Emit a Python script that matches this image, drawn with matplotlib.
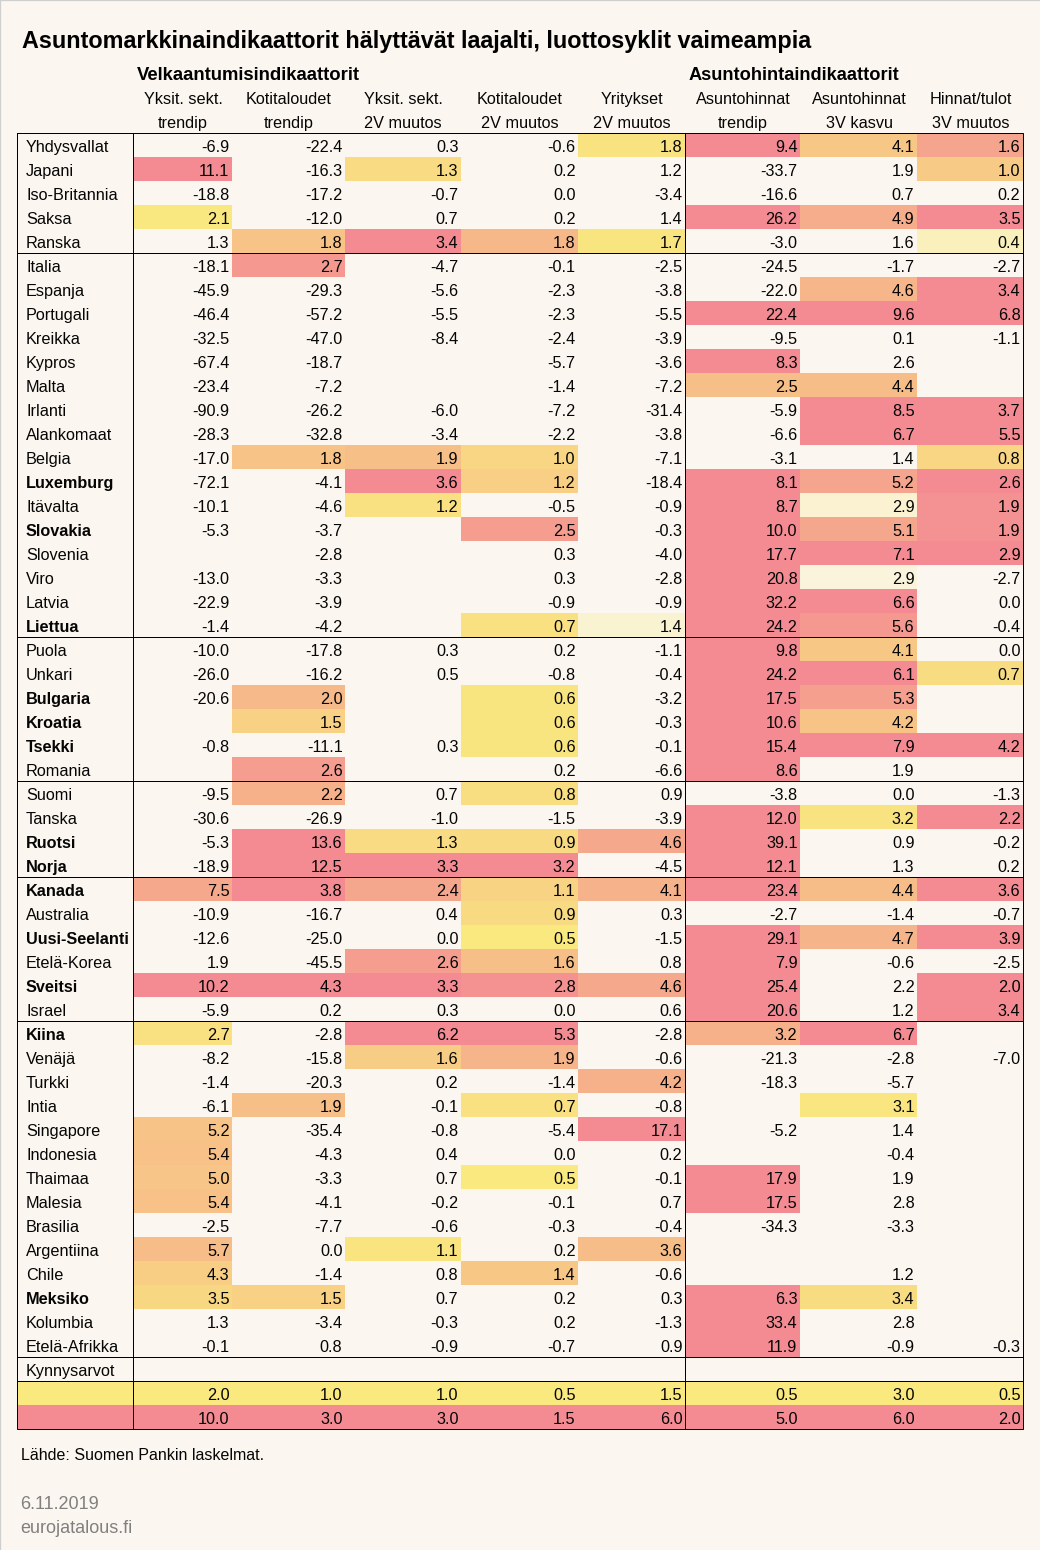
import numpy as np
import matplotlib
matplotlib.use("Agg")
import matplotlib.pyplot as plt
from matplotlib.colors import LinearSegmentedColormap

title = "Asuntomarkkinaindikaattorit hälyttävät laajalti, luottosyklit vaimeampia"
group_heads = ["Velkaantumisindikaattorit", "Asuntohintaindikaattorit"]
head_line1 = ["Yksit. sekt.", "Kotitaloudet", "Yksit. sekt.", "Kotitaloudet", "Yritykset",
              "Asuntohinnat", "Asuntohinnat", "Hinnat/tulot"]
head_line2 = ["trendip", "trendip", "2V muutos", "2V muutos", "2V muutos",
              "trendip", "3V kasvu", "3V muutos"]

countries = ["Yhdysvallat", "Japani", "Iso-Britannia", "Saksa", "Ranska",
             "Italia", "Espanja", "Portugali", "Kreikka", "Kypros", "Malta", "Irlanti", "Alankomaat",
             "Belgia", "Luxemburg", "Itävalta", "Slovakia", "Slovenia", "Viro", "Latvia", "Liettua",
             "Puola", "Unkari", "Bulgaria", "Kroatia", "Tsekki", "Romania",
             "Suomi", "Tanska", "Ruotsi", "Norja",
             "Kanada", "Australia", "Uusi-Seelanti", "Etelä-Korea", "Sveitsi", "Israel",
             "Kiina", "Venäjä", "Turkki", "Intia", "Singapore", "Indonesia", "Thaimaa", "Malesia",
             "Brasilia", "Argentiina", "Chile", "Meksiko", "Kolumbia", "Etelä-Afrikka"]
bold_countries = ["Luxemburg", "Slovakia", "Liettua", "Bulgaria", "Kroatia", "Tsekki", "Ruotsi", "Norja",
                  "Kanada", "Uusi-Seelanti", "Sveitsi", "Kiina", "Meksiko"]
N = None
debt_private_trend = [-6.9, 11.1, -18.8, 2.1, 1.3, -18.1, -45.9, -46.4, -32.5, -67.4, -23.4, -90.9, -28.3,
                      -17.0, -72.1, -10.1, -5.3, N, -13.0, -22.9, -1.4, -10.0, -26.0, -20.6, N, -0.8, N,
                      -9.5, -30.6, -5.3, -18.9, 7.5, -10.9, -12.6, 1.9, 10.2, -5.9, 2.7, -8.2, -1.4, -6.1,
                      5.2, 5.4, 5.0, 5.4, -2.5, 5.7, 4.3, 3.5, 1.3, -0.1]
debt_hh_trend = [-22.4, -16.3, -17.2, -12.0, 1.8, 2.7, -29.3, -57.2, -47.0, -18.7, -7.2, -26.2, -32.8,
                 1.8, -4.1, -4.6, -3.7, -2.8, -3.3, -3.9, -4.2, -17.8, -16.2, 2.0, 1.5, -11.1, 2.6,
                 2.2, -26.9, 13.6, 12.5, 3.8, -16.7, -25.0, -45.5, 4.3, 0.2, -2.8, -15.8, -20.3, 1.9,
                 -35.4, -4.3, -3.3, -4.1, -7.7, 0.0, -1.4, 1.5, -3.4, 0.8]
debt_private_2v = [0.3, 1.3, -0.7, 0.7, 3.4, -4.7, -5.6, -5.5, -8.4, N, N, -6.0, -3.4,
                   1.9, 3.6, 1.2, N, N, N, N, N, 0.3, 0.5, N, N, 0.3, N,
                   0.7, -1.0, 1.3, 3.3, 2.4, 0.4, 0.0, 2.6, 3.3, 0.3, 6.2, 1.6, 0.2, -0.1,
                   -0.8, 0.4, 0.7, -0.2, -0.6, 1.1, 0.8, 0.7, -0.3, -0.9]
debt_hh_2v = [-0.6, 0.2, 0.0, 0.2, 1.8, -0.1, -2.3, -2.3, -2.4, -5.7, -1.4, -7.2, -2.2,
              1.0, 1.2, -0.5, 2.5, 0.3, 0.3, -0.9, 0.7, 0.2, -0.8, 0.6, 0.6, 0.6, 0.2,
              0.8, -1.5, 0.9, 3.2, 1.1, 0.9, 0.5, 1.6, 2.8, 0.0, 5.3, 1.9, -1.4, 0.7,
              -5.4, 0.0, 0.5, -0.1, -0.3, 0.2, 1.4, 0.2, 0.2, -0.7]
debt_corp_2v = [1.8, 1.2, -3.4, 1.4, 1.7, -2.5, -3.8, -5.5, -3.9, -3.6, -7.2, -31.4, -3.8,
                -7.1, -18.4, -0.9, -0.3, -4.0, -2.8, -0.9, 1.4, -1.1, -0.4, -3.2, -0.3, -0.1, -6.6,
                0.9, -3.9, 4.6, -4.5, 4.1, 0.3, -1.5, 0.8, 4.6, 0.6, -2.8, -0.6, 4.2, -0.8,
                17.1, 0.2, -0.1, 0.7, -0.4, 3.6, -0.6, 0.3, -1.3, 0.9]
house_trend = [9.4, -33.7, -16.6, 26.2, -3.0, -24.5, -22.0, 22.4, -9.5, 8.3, 2.5, -5.9, -6.6,
               -3.1, 8.1, 8.7, 10.0, 17.7, 20.8, 32.2, 24.2, 9.8, 24.2, 17.5, 10.6, 15.4, 8.6,
               -3.8, 12.0, 39.1, 12.1, 23.4, -2.7, 29.1, 7.9, 25.4, 20.6, 3.2, -21.3, -18.3, N,
               -5.2, N, 17.9, 17.5, -34.3, N, N, 6.3, 33.4, 11.9]
house_3v = [4.1, 1.9, 0.7, 4.9, 1.6, -1.7, 4.6, 9.6, 0.1, 2.6, 4.4, 8.5, 6.7,
            1.4, 5.2, 2.9, 5.1, 7.1, 2.9, 6.6, 5.6, 4.1, 6.1, 5.3, 4.2, 7.9, 1.9,
            0.0, 3.2, 0.9, 1.3, 4.4, -1.4, 4.7, -0.6, 2.2, 1.2, 6.7, -2.8, -5.7, 3.1,
            1.4, -0.4, 1.9, 2.8, -3.3, N, 1.2, 3.4, 2.8, -0.9]
price_income_3v = [1.6, 1.0, 0.2, 3.5, 0.4, -2.7, 3.4, 6.8, -1.1, N, N, 3.7, 5.5,
                   0.8, 2.6, 1.9, 1.9, 2.9, -2.7, 0.0, -0.4, 0.0, 0.7, N, N, 4.2, N,
                   -1.3, 2.2, -0.2, 0.2, 3.6, -0.7, 3.9, -2.5, 2.0, 3.4, N, -7.0, N, N,
                   N, N, N, N, N, N, N, N, N, -0.3]
threshold_low = [2.0, 1.0, 1.0, 0.5, 1.5, 0.5, 3.0, 0.5]
threshold_high = [10.0, 3.0, 3.0, 1.5, 6.0, 5.0, 6.0, 2.0]
# The colour scale of the fourth column saturates later than its printed threshold.
colour_high = [10.0, 3.0, 3.0, 3.0, 6.0, 5.0, 6.0, 2.0]
# Cells whose unrounded value sits just under the lower threshold are faintly tinted.
near_threshold = {("Ranska", 7): 0.23, ("Liettua", 4): 0.13, ("Itävalta", 6): 0.14, ("Viro", 6): 0.085}
group_ends = ["Ranska", "Liettua", "Romania", "Norja", "Israel", "Etelä-Afrikka"]
threshold_title = "Kynnysarvot"
source = "Lähde: Suomen Pankin laskelmat."
date_text = "6.11.2019"
site_text = "eurojatalous.fi"

columns = [debt_private_trend, debt_hh_trend, debt_private_2v, debt_hh_2v, debt_corp_2v,
           house_trend, house_3v, price_income_3v]

BG = "#FBF6EF"; YEL = "#F9E97F"; RED = "#F48B93"; GREY = "#808080"; INK = "#050505"
FONT = "Liberation Sans"
PX = 0.72  # px to pt at dpi 100

fig = plt.figure(figsize=(10.4, 15.5), dpi=100, facecolor=BG)
ax = fig.add_axes([0, 0, 1, 1])
ax.set_xlim(0, 1040); ax.set_ylim(1550, 0); ax.axis("off")

x_edges = np.array([17, 133, 232, 345, 461, 578, 685, 800, 917, 1023], dtype=float)
ROW = 24.0
TOP = 133.0
n_rows = len(countries) + 3
y_edges = TOP + ROW * np.arange(n_rows + 1)

cmap = LinearSegmentedColormap.from_list("heat", [(0, BG), (0.5, YEL), (1, RED)])
levels = np.zeros((n_rows, 9))
for c, col in enumerate(columns):
    lo, hi = threshold_low[c], colour_high[c]
    for r, v in enumerate(col):
        if v is not None and v >= lo:
            levels[r, c + 1] = 0.5 + 0.5 * min((v - lo) / (hi - lo), 1)
for (name, c), lev in near_threshold.items():
    levels[countries.index(name), c + 1] = lev
levels[-2, :] = 0.5
levels[-1, :] = 1.0
ax.pcolormesh(x_edges, y_edges, levels, cmap=cmap, vmin=0, vmax=1, shading="flat",
              linewidth=0, antialiased=False, zorder=1)

# rules: one pixel wide, sitting on the pixel just after each edge
def rule(xs, ys, color="k"):
    ax.plot(np.asarray(xs) + 0.5, np.asarray(ys) + 0.5, color=color, lw=0.72, zorder=3,
            solid_capstyle="projecting", solid_joinstyle="miter", snap=False)

for name in group_ends:
    y = y_edges[countries.index(name) + 1]
    rule([x_edges[0], x_edges[-1]], [y, y])
y = y_edges[len(countries) + 1]
rule([x_edges[0], x_edges[-1]], [y, y])
for x in (x_edges[1], x_edges[6]):
    rule([x, x], [y_edges[0], y_edges[-1]])
rule(x_edges[[0, -1, -1, 0, 0]], y_edges[[0, 0, -1, -1, 0]])

# texts
BASE = 18.8
CELL = 16.2
def put(x, y, s, size=CELL, **kw):
    kw.setdefault("color", INK)
    ax.text(x, y, s, fontsize=size * PX, family=FONT, va="baseline", zorder=4, **kw)

put(22, 48, title, size=23.4, fontweight="bold", color="black")
put(137, 80, group_heads[0], size=18.5, fontweight="bold", color="black")
put(689, 80, group_heads[1], size=18.3, fontweight="bold", color="black")
header_centres = [183, 289, 403, 520, 632, 743, 859, 971]
for c in range(8):
    put(header_centres[c], 104, head_line1[c], ha="center")
    put(header_centres[c], 128, head_line2[c], ha="center")

for r, name in enumerate(countries):
    put(26, y_edges[r] + BASE, name, fontweight="bold" if name in bold_countries else "normal")
    for c, col in enumerate(columns):
        if col[r] is not None:
            put(x_edges[c + 2] - 2.5, y_edges[r] + BASE, f"{col[r]:.1f}", ha="right")
put(26, y_edges[len(countries)] + BASE, threshold_title)
for c in range(8):
    put(x_edges[c + 2] - 2.5, y_edges[-3] + BASE, f"{threshold_low[c]:.1f}", ha="right")
    put(x_edges[c + 2] - 2.5, y_edges[-2] + BASE, f"{threshold_high[c]:.1f}", ha="right")

put(21, 1460.5, source, size=16)
put(20.5, 1509, date_text, size=18, color=GREY)
put(20.5, 1533, site_text, size=18, color=GREY)

# thin frame on the top and left edges of the image
ax.plot([0.5, 0.5, 1040], [1550, 0.5, 0.5], color="#CFCFCF", lw=0.9, zorder=5, snap=False)

fig.savefig("out.png", dpi=100, facecolor=BG)
